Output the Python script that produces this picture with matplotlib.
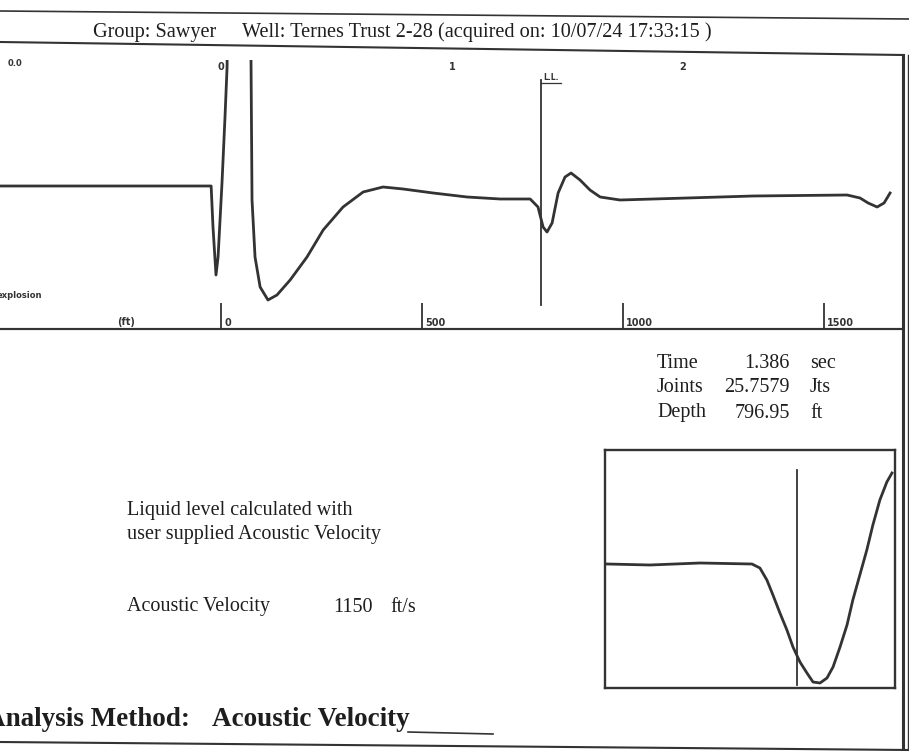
import numpy as np
import matplotlib.pyplot as plt
from matplotlib.lines import Line2D

# acoustic trace (time in sec, amplitude in arbitrary units)
trace_t = [-0.957, -0.50, -0.043, -0.035, -0.022, -0.013, 0.004, 0.017, 0.026, 0.035,
           0.121, 0.134, 0.147, 0.169, 0.203, 0.242, 0.299, 0.372, 0.442, 0.528,
           0.615, 0.701, 0.788, 0.918, 1.065, 1.208, 1.338, 1.372, 1.394, 1.411,
           1.433, 1.459, 1.489, 1.515, 1.554, 1.597, 1.641, 1.727, 2.017, 2.303,
           2.710, 2.766, 2.801, 2.840, 2.870, 2.896]
trace_a = [0, 0, 0, -41, -89, -71, 3, 69, 119, 400,
           400, -14, -71, -101, -114, -109, -94, -71, -44, -21,
           -6, -1, -3, -7, -11, -13, -13, -21, -41, -46,
           -37, -7, 9, 13, 6, -4, -11, -14, -12, -10,
           -9, -12, -17, -21, -17, -7]

# zoomed view around the liquid level
zoom_t = [1.3045, 1.3229, 1.3444, 1.3667, 1.3701, 1.3731, 1.3757, 1.3787, 1.3817,
          1.3843, 1.3873, 1.3903, 1.3929, 1.3959, 1.3989, 1.4015, 1.4045, 1.4075,
          1.4100, 1.4130, 1.4160, 1.4186, 1.4216, 1.4246, 1.4268]
zoom_a = [0, -1, 1, 0, -4, -16, -31, -49, -66,
          -83, -98, -109, -118, -119, -114, -103, -83, -61,
          -36, -11, 14, 39, 64, 82, 91]

time_ticks = [0, 1, 2]
depth_ticks = [0, 500, 1000, 1500]
ll_time = 1.386
velocity = 1150  # ft/s
ft_per_sec = velocity / 2.0

info_names = ['Time', 'Joints', 'Depth']
info_values = ['1.386', '25.7579', '796.95']
info_units = ['sec', 'Jts', 'ft']

ink = '#333333'
txt = '#1e1e1e'
serif = 'Liberation Serif'
W, H = 909, 752


def fx(x):
    return x / W


def fy(y):
    return 1 - y / H


fig = plt.figure(figsize=(9.09, 7.52), dpi=100)
fig.patch.set_facecolor('white')

# main trace panel
ax = fig.add_axes([0, fy(329), fx(903), (329 - 60) / H])
ax.plot(trace_t, trace_a, color=ink, lw=2.0, solid_joinstyle='round')
ax.set_xlim(-0.957, 2.952)
ax.set_ylim(-143, 126)
ax.set_xticks([])
ax.set_yticks([])
for s in ['top', 'left', 'right']:
    ax.spines[s].set_visible(False)
ax.spines['bottom'].set_color(ink)
ax.spines['bottom'].set_linewidth(1.5)

# liquid level marker
ax.plot([ll_time, ll_time], [106, -119], color=ink, lw=1.3)
ax.text(ll_time + 0.01, 104, 'L.L.', fontsize=5.5, weight='bold', color=ink, va='bottom')
ax.plot([ll_time, ll_time + 0.085], [103, 103], color=ink, lw=0.9)

# time labels along the top
for t in time_ticks:
    ax.text(t, 124, str(t), fontsize=7, weight='bold', color=ink, ha='center', va='top')

# depth axis at the bottom
sec = ax.secondary_xaxis('bottom', functions=(lambda t: t * ft_per_sec, lambda d: d / ft_per_sec))
sec.set_xticks(depth_ticks)
sec.tick_params(direction='in', length=19, width=1.3, color=ink, labelbottom=False)
sec.spines['bottom'].set_color(ink)
sec.spines['bottom'].set_linewidth(1.5)
for d in depth_ticks:
    ax.annotate(str(d), (d / ft_per_sec, -143), xytext=(2.5, 1), textcoords='offset points',
                fontsize=7, weight='bold', color=ink, va='bottom')
ax.text(-0.45, -141, '(ft)', fontsize=7, weight='bold', color=ink, va='bottom')

fig.text(fx(8), fy(63), '0.0', fontsize=6, weight='bold', color=ink, va='center')
fig.text(fx(-3), fy(296), 'explosion', fontsize=6, weight='bold', color=ink, va='center')

# zoom inset
axz = fig.add_axes([fx(605), fy(688), 290 / W, 238 / H])
axz.plot(zoom_t, zoom_a, color=ink, lw=2.0)
axz.plot([ll_time, ll_time], [94, -121], color=ink, lw=1.3)
axz.set_xlim(1.3036, 1.4281)
axz.set_ylim(-124, 114)
axz.set_xticks([])
axz.set_yticks([])
for s in axz.spines.values():
    s.set_color(ink)
    s.set_linewidth(1.7)

# header and text blocks
fig.text(fx(93), fy(32), 'Group: Sawyer', fontsize=14.6, family=serif, color=txt, va='center')
fig.text(fx(242), fy(32), 'Well: Ternes Trust 2-28 (acquired on: 10/07/24 17:33:15 )',
         fontsize=14.6, family=serif, color=txt, va='center')

for i in range(3):
    y = 363 + 25 * i
    fig.text(fx(657), fy(y), info_names[i], fontsize=14.5, family=serif, color=txt, va='center')
    fig.text(fx(790), fy(y), info_values[i], fontsize=14.5, family=serif, color=txt,
             va='center', ha='right')
    fig.text(fx(810), fy(y), info_units[i], fontsize=14.5, family=serif, color=txt, va='center')

fig.text(fx(127), fy(510), 'Liquid level calculated with', fontsize=14.5, family=serif,
         color=txt, va='center')
fig.text(fx(127), fy(535), 'user supplied Acoustic Velocity', fontsize=14.5, family=serif,
         color=txt, va='center')
fig.text(fx(127), fy(607), 'Acoustic Velocity', fontsize=14.5, family=serif, color=txt, va='center')
fig.text(fx(333), fy(607), str(velocity), fontsize=14.5, family=serif, color=txt, va='center')
fig.text(fx(390), fy(607), 'ft/s', fontsize=14.5, family=serif, color=txt, va='center')

fig.text(fx(190), fy(720), 'Analysis Method:', fontsize=19.5, family=serif,
         weight='bold', color=txt, va='center', ha='right')
fig.text(fx(212), fy(720), 'Acoustic Velocity', fontsize=19.5, family=serif,
         weight='bold', color=txt, va='center')

# page frame lines
frame = [((0, 11), (909, 19), 1.2),
         ((0, 42), (903, 55), 1.5),
         ((903, 55), (903, 748), 2.2),
         ((908, 55), (908, 748), 1.0),
         ((0, 742), (909, 750), 1.5),
         ((408, 732), (493, 734), 1.2)]
for (x0, y0), (x1, y1), lw in frame:
    fig.add_artist(Line2D([fx(x0), fx(x1)], [fy(y0), fy(y1)], color=ink, lw=lw))

fig.savefig('out.png', dpi=100)
